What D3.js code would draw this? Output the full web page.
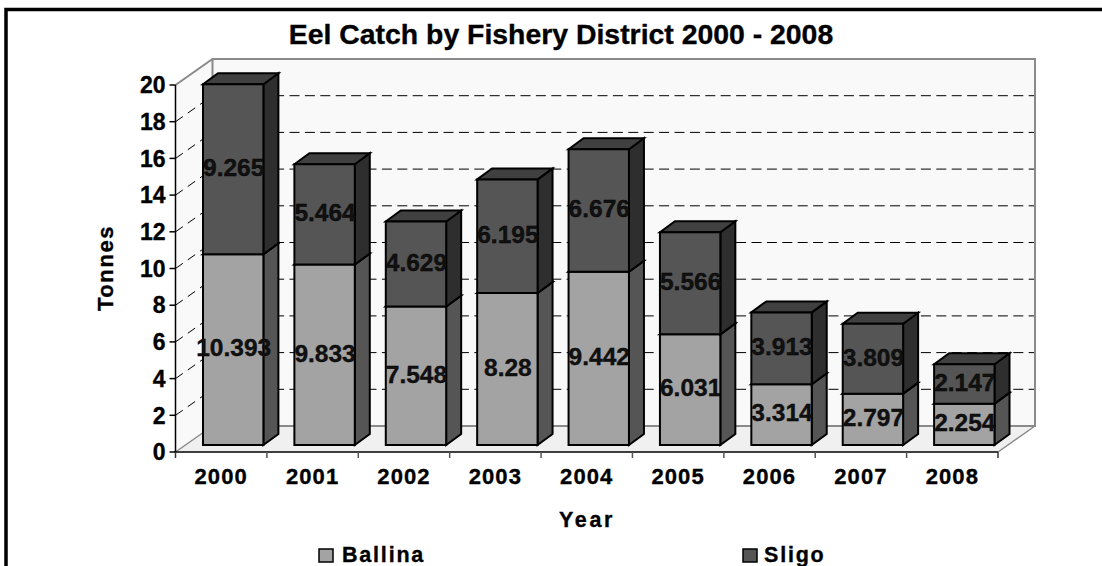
<!DOCTYPE html>
<html><head><meta charset="utf-8">
<script src="https://cdn.jsdelivr.net/npm/d3@7/dist/d3.min.js"></script>
<style>html,body{margin:0;padding:0;background:#fff}svg{display:block}text{font-family:"Liberation Sans",Arial,sans-serif;font-weight:bold;fill:#000;stroke:#000;stroke-width:.35px}</style>
</head><body><svg id="c" width="1102" height="566"></svg>
<script>
const title = "Eel Catch by Fishery District 2000 - 2008";
const years = ["2000","2001","2002","2003","2004","2005","2006","2007","2008"];
const ballina = [10.393,9.833,7.548,8.28,9.442,6.031,3.314,2.797,2.254];
const sligo = [9.265,5.464,4.629,6.195,6.676,5.566,3.913,3.809,2.147];
const yTicks = [0,2,4,6,8,10,12,14,16,18,20];
const seriesNames = ["Ballina","Sligo"];
const seriesData = [ballina, sligo];
const frontCol = ["#a3a3a3","#555555"], sideCol = ["#555555","#2e2e2e"], topCol = ["#7a7a7a","#404040"];

const svg = d3.select("#c");
const W = {l:175.5,r:998,t:85,b:452}, D = {x:37,y:-26}, B = {x:10,y:-7,dx:15,dy:-11};
const x = d3.scaleBand().domain(years).range([W.l,W.r]).paddingInner(31/91.4).paddingOuter(15.5/91.4);
const y = d3.scaleLinear().domain([0,20]).range([W.b,W.t]);
const poly = (pts,fill,st,sw)=>svg.append("polygon").attr("points",pts.map(p=>p.join(",")).join(" ")).attr("fill",fill).attr("stroke",st||"none").attr("stroke-width",sw||0).attr("stroke-linejoin","miter");
const line = (x1,y1,x2,y2,st,sw,dash)=>svg.append("line").attr("x1",x1).attr("y1",y1).attr("x2",x2).attr("y2",y2).attr("stroke",st).attr("stroke-width",sw).attr("stroke-dasharray",dash||null);

// frame
svg.append("path").attr("d","M6,566V9.5H1102").attr("fill","none").attr("stroke","#000").attr("stroke-width",3.5);

// walls
poly([[W.l+D.x,W.t+D.y],[W.r+D.x,W.t+D.y],[W.r+D.x,W.b+D.y],[W.l+D.x,W.b+D.y]],"#f9f9f9");
poly([[W.l,W.t],[W.l+D.x,W.t+D.y],[W.l+D.x,W.b+D.y],[W.l,W.b]],"#f9f9f9");
poly([[W.l,W.b],[W.l+D.x,W.b+D.y],[W.r+D.x,W.b+D.y],[W.r,W.b]],"#f0f0f0");
// grid
yTicks.slice(1,-1).forEach(v=>{
  line(W.l,y(v),W.l+D.x,y(v)+D.y,"#000",1,"9 6");
  line(W.l+D.x,y(v)+D.y,W.r+D.x,y(v)+D.y,"#000",1,"10 5.4");
});
// wall edges
const g="#8a8a8a";
svg.append("path").attr("d",`M${W.l},${W.t}L${W.l+D.x},${W.t+D.y}H${W.r+D.x}V${W.b+D.y}H${W.l+D.x}V${W.t+D.y}`).attr("fill","none").attr("stroke",g).attr("stroke-width",2);
svg.append("path").attr("d",`M${W.l},${W.b}L${W.l+D.x},${W.b+D.y}M${W.r},${W.b}L${W.r+D.x},${W.b+D.y}`).attr("fill","none").attr("stroke",g).attr("stroke-width",1.5);

// bars
years.forEach((yr,i)=>{
  let base=0;
  const x0=x(yr)+27.5-x.step()*x.paddingOuter()-0, x1=x0+x.bandwidth();
  seriesData.forEach((s,k)=>{
    const v=s[i], yb=y(base)+B.y, yt=y(base+v)+B.y;
    poly([[x1,yb],[x1+B.dx,yb+B.dy],[x1+B.dx,yt+B.dy],[x1,yt]],sideCol[k],"#000",2);
    poly([[x0,yt],[x0+B.dx,yt+B.dy],[x1+B.dx,yt+B.dy],[x1,yt]],topCol[k],"#000",2);
    poly([[x0,yb],[x1,yb],[x1,yt],[x0,yt]],frontCol[k],"#000",2);
    base+=v;
  });
});
// labels
years.forEach((yr,i)=>{
  let base=0;
  const xc=x(yr)+27.5-x.step()*x.paddingOuter()+x.bandwidth()/2;
  seriesData.forEach(s=>{
    const v=s[i];
    svg.append("text").attr("x",xc+0.5).attr("y",(y(base)+y(base+v))/2+B.y-2).attr("dy","0.36em").attr("text-anchor","middle").attr("font-size",24.5).style("fill","#111").text(v);
    base+=v;
  });
});

// axes
line(W.l,W.t,W.l,W.b,"#000",1.5);
line(W.l-1,W.b,W.r,W.b,"#000",1.5);
yTicks.forEach(v=>{
  line(W.l-6,y(v),W.l,y(v),"#000",1.5);
  svg.append("text").attr("x",W.l-10).attr("y",y(v)).attr("dy","0.36em").attr("text-anchor","end").attr("font-size",23).text(v);
});
d3.range(years.length+1).forEach(i=>line(W.l+i*x.step(),W.b,W.l+i*x.step(),W.b+6,i%9===0?"#333":"#555",1.5));
years.forEach(yr=>{
  svg.append("text").attr("x",x(yr)+x.bandwidth()/2).attr("y",484).attr("text-anchor","middle").attr("font-size",22).style("letter-spacing","1.1px").text(yr);
});

// titles
svg.append("text").attr("x",561).attr("y",44).attr("text-anchor","middle").attr("font-size",28.4).text(title);
svg.append("text").attr("x",587).attr("y",527).attr("text-anchor","middle").attr("font-size",21.5).style("letter-spacing","2.6px").text("Year");
svg.append("text").attr("transform","translate(113,268) rotate(-90)").attr("text-anchor","middle").attr("font-size",22).style("letter-spacing","1.6px").text("Tonnes");

// legend
const legendX=[319,743], legendTextX=[342,764];
seriesNames.forEach((n,k)=>{
  svg.append("rect").attr("x",legendX[k]).attr("y",549).attr("width",14).attr("height",13).attr("fill",frontCol[k]).attr("stroke","#000").attr("stroke-width",1.5);
  svg.append("text").attr("x",legendTextX[k]).attr("y",562).attr("font-size",21.5).style("letter-spacing","1.8px").text(n);
});
</script></body></html>
